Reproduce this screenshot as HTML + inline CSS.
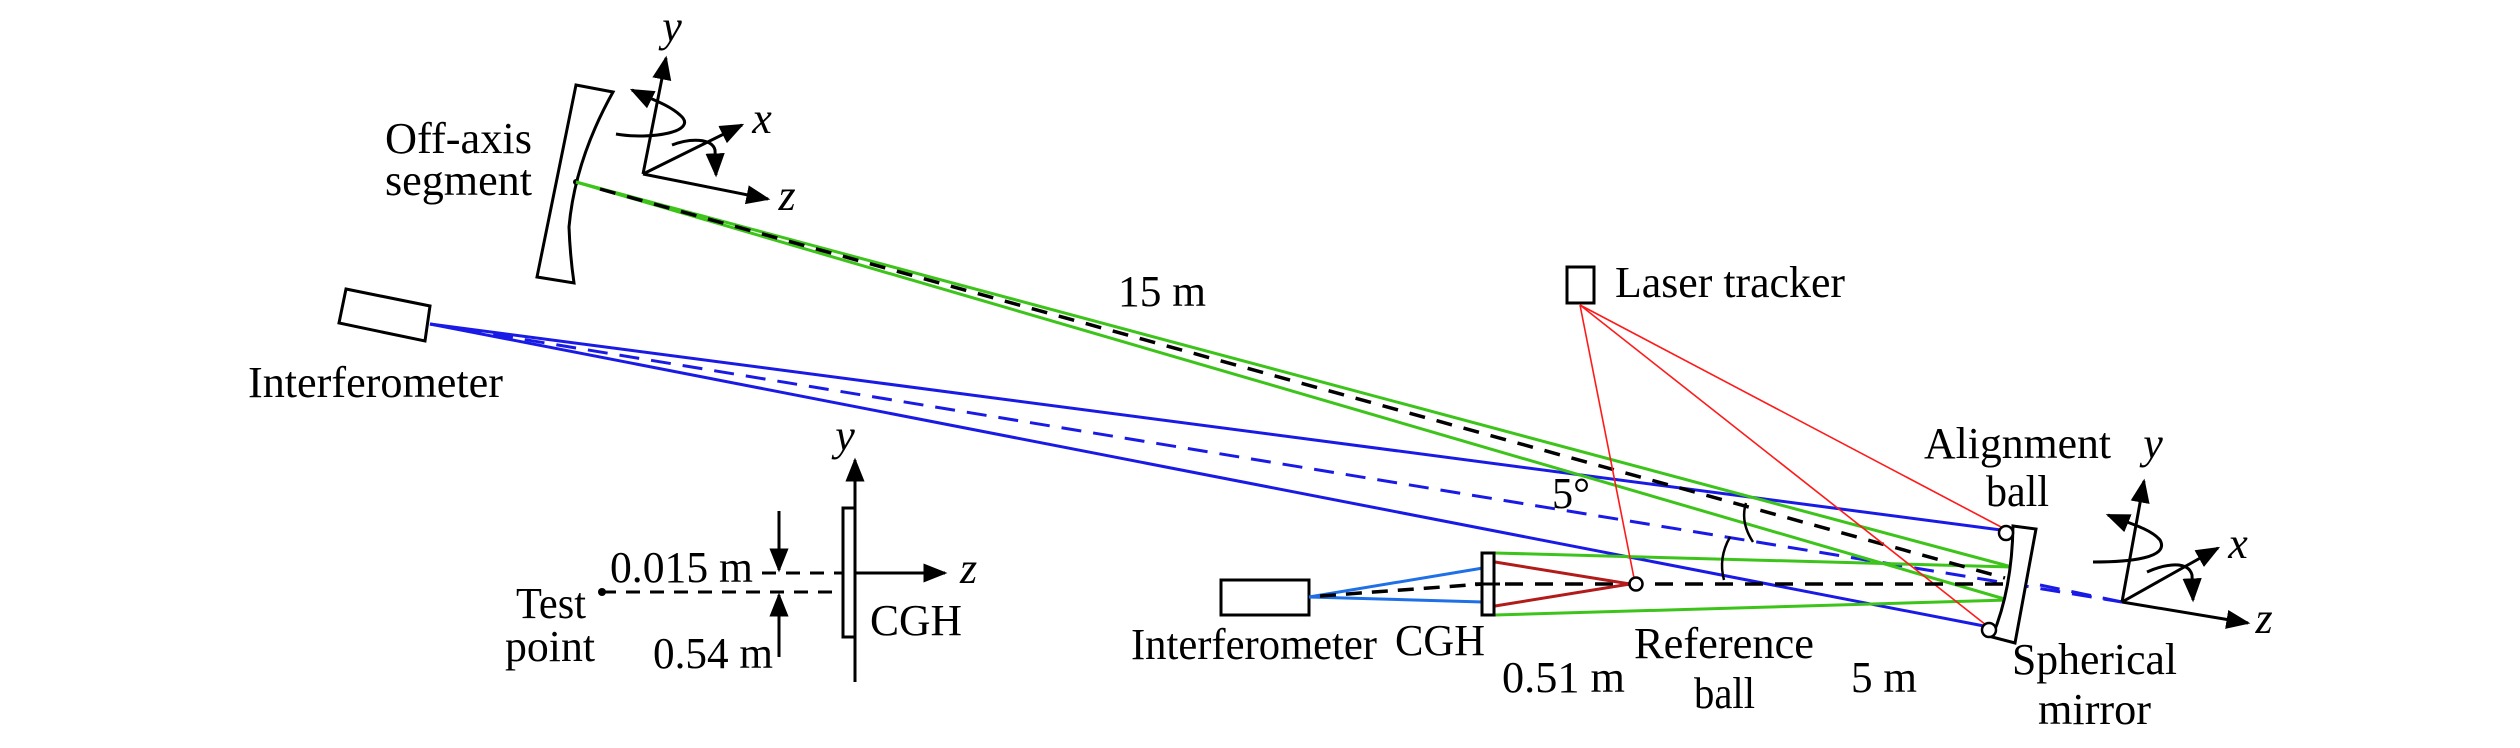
<!DOCTYPE html>
<html><head><meta charset="utf-8"><style>
html,body{margin:0;padding:0;background:#fff;}
svg{display:block;}
svg text{font-family:"Liberation Serif","Times New Roman","DejaVu Serif","Noto Serif CJK SC",serif;font-size:44px;fill:#000;}
.it{font-style:italic;}
</style></head><body>
<svg width="2520" height="748" viewBox="0 0 2520 748" xmlns="http://www.w3.org/2000/svg" font-family="Liberation Serif, Times New Roman, DejaVu Serif, serif">
<defs>
<marker id="ab" viewBox="0 0 10 10" refX="9" refY="5" markerWidth="8" markerHeight="8" orient="auto"><path d="M0,1 L10,5 L0,9 z" fill="#000"/></marker>
</defs>

<!-- Off-axis segment -->
<path d="M576,85 L613,92 Q575,160 569,227 Q570,255 574,283 L537,277 Z" fill="none" stroke="#000" stroke-width="3"/>
<circle cx="576" cy="182" r="3" fill="#000"/>
<g stroke="#000" stroke-width="3" fill="none">
<line x1="643" y1="174" x2="666" y2="58" marker-end="url(#ab)"/>
<line x1="643" y1="174" x2="742" y2="125" marker-end="url(#ab)"/>
<line x1="643" y1="174" x2="768" y2="199" marker-end="url(#ab)"/>
<path d="M616,134 C650,140 700,132 680,115 C668,104 648,98 632,90" marker-end="url(#ab)"/>
<path d="M672,145 C690,138 712,138 715,150 L716,175" marker-end="url(#ab)"/>
</g>
<text x="672" y="41" class="it" text-anchor="middle" font-style="italic">y</text>
<text x="762" y="133" class="it" text-anchor="middle" font-style="italic">x</text>
<text x="787" y="210" class="it" text-anchor="middle" font-style="italic">z</text>
<text x="385" y="153" textLength="147" lengthAdjust="spacingAndGlyphs">Off-axis</text>
<text x="385" y="195" textLength="147" lengthAdjust="spacingAndGlyphs">segment</text>

<!-- Left interferometer -->
<path d="M346,289 L430,306 L425,341 L339,323 Z" fill="#fff" stroke="#000" stroke-width="3"/>
<text x="248" y="397" textLength="255" lengthAdjust="spacingAndGlyphs">Interferometer</text>
<text x="1118" y="306" textLength="88" lengthAdjust="spacingAndGlyphs">15 m</text>

<!-- Blue beams -->
<g stroke="#1a1ae6" stroke-width="3" fill="none">
<line x1="430" y1="324" x2="2001" y2="530"/>
<line x1="430" y1="324" x2="1984" y2="626"/>
<line x1="430" y1="324" x2="2122" y2="602" stroke-dasharray="20,12"/>
</g>

<!-- Green beams -->
<g stroke="#3dc41a" stroke-width="3" fill="none">
<line x1="576" y1="182" x2="2012" y2="567"/>
<line x1="576" y1="182" x2="2008" y2="600"/>
<line x1="1495" y1="553" x2="2012" y2="567"/>
<line x1="1495" y1="615" x2="2008" y2="600"/>
</g>
<line x1="600" y1="189" x2="2005" y2="578" stroke="#000" stroke-width="3.5" stroke-dasharray="16,12"/>

<!-- Laser tracker -->
<rect x="1567" y="267" width="27" height="36" fill="#fff" stroke="#000" stroke-width="3"/>
<text x="1615" y="297" textLength="230" lengthAdjust="spacingAndGlyphs">Laser tracker</text>
<g stroke="#ff1a1a" stroke-width="1.6">
<line x1="1580" y1="305" x2="1634" y2="578"/>
<line x1="1580" y1="305" x2="2003" y2="528"/>
<line x1="1580" y1="305" x2="1986" y2="625"/>
</g>

<!-- lower setup -->
<rect x="1221" y="580" width="88" height="35" fill="#fff" stroke="#000" stroke-width="3"/>
<g stroke="#1f6fe6" stroke-width="3">
<line x1="1309" y1="597" x2="1483" y2="568"/>
<line x1="1309" y1="597" x2="1483" y2="602"/>
</g>
<line x1="1320" y1="596" x2="1483" y2="584" stroke="#000" stroke-width="3.5" stroke-dasharray="16,10"/>
<line x1="1475" y1="584" x2="2013" y2="584" stroke="#000" stroke-width="3.5" stroke-dasharray="18,12"/>
<g stroke="#b31a1a" stroke-width="3">
<line x1="1495" y1="562" x2="1630" y2="584"/>
<line x1="1495" y1="606" x2="1630" y2="584"/>
</g>
<rect x="1482" y="553" width="12" height="62" fill="#fff" stroke="#000" stroke-width="3"/>
<line x1="1476" y1="584" x2="1500" y2="584" stroke="#000" stroke-width="3"/>
<circle cx="1636" cy="584" r="6.5" fill="#fff" stroke="#000" stroke-width="2.5"/>

<!-- angle arcs -->
<g stroke="#000" stroke-width="2.5" fill="none">
<path d="M1746,503 Q1740,522 1753,542"/>
<path d="M1730,537 Q1718,558 1724,580"/>
</g>
<text x="1552" y="508" textLength="38" lengthAdjust="spacingAndGlyphs">5°</text>

<!-- Spherical mirror -->
<path d="M2013,526 L2036,529 L2015,643 L1992,637 Q2012,590 2013,526 Z" fill="#fff" stroke="#000" stroke-width="3"/>
<circle cx="2006" cy="533" r="7" fill="#fff" stroke="#000" stroke-width="2.5"/>
<circle cx="1989" cy="630" r="7" fill="#fff" stroke="#000" stroke-width="2.5"/>
<line x1="2040" y1="585" x2="2122" y2="602" stroke="#1a1ae6" stroke-width="3" stroke-dasharray="20,12"/>

<!-- right axes -->
<g stroke="#000" stroke-width="3" fill="none">
<line x1="2122" y1="602" x2="2144" y2="481" marker-end="url(#ab)"/>
<line x1="2122" y1="602" x2="2218" y2="548" marker-end="url(#ab)"/>
<line x1="2122" y1="602" x2="2248" y2="623" marker-end="url(#ab)"/>
<path d="M2093,562 C2130,562 2170,558 2160,540 C2150,528 2125,522 2108,515" marker-end="url(#ab)"/>
<path d="M2147,572 C2165,564 2188,560 2192,575 L2193,600" marker-end="url(#ab)"/>
</g>
<text x="2153" y="458" class="it" text-anchor="middle" font-style="italic">y</text>
<text x="2238" y="558" class="it" text-anchor="middle" font-style="italic">x</text>
<text x="2264" y="633" class="it" text-anchor="middle" font-style="italic">z</text>

<!-- lower labels -->
<text x="1131" y="659" textLength="246" lengthAdjust="spacingAndGlyphs">Interferometer</text>
<text x="1395" y="655" textLength="90" lengthAdjust="spacingAndGlyphs">CGH</text>
<text x="1502" y="692" textLength="123" lengthAdjust="spacingAndGlyphs">0.51 m</text>
<text x="1634" y="658" textLength="180" lengthAdjust="spacingAndGlyphs">Reference</text>
<text x="1694" y="708" textLength="61" lengthAdjust="spacingAndGlyphs">ball</text>
<text x="1851" y="692" textLength="66" lengthAdjust="spacingAndGlyphs">5 m</text>
<text x="1924" y="458" textLength="187" lengthAdjust="spacingAndGlyphs">Alignment</text>
<text x="1986" y="506" textLength="63" lengthAdjust="spacingAndGlyphs">ball</text>
<text x="2012" y="674" textLength="165" lengthAdjust="spacingAndGlyphs">Spherical</text>
<text x="2038" y="724" textLength="113" lengthAdjust="spacingAndGlyphs">mirror</text>

<!-- CGH small diagram -->
<g stroke="#000" stroke-width="3" fill="none">
<line x1="855" y1="682" x2="855" y2="460" marker-end="url(#ab)"/>
<line x1="855" y1="573" x2="945" y2="573" marker-end="url(#ab)"/>
<rect x="843" y="508" width="12" height="129" fill="#fff"/>
<line x1="762" y1="573" x2="843" y2="573" stroke-dasharray="14,10"/>
<line x1="602" y1="592" x2="843" y2="592" stroke-dasharray="14,10"/>
<line x1="779" y1="511" x2="779" y2="570" marker-end="url(#ab)"/>
<line x1="779" y1="657" x2="779" y2="595" marker-end="url(#ab)"/>
</g>
<circle cx="602" cy="592" r="4" fill="#000"/>
<text x="845" y="450" class="it" text-anchor="middle" font-style="italic">y</text>
<text x="960" y="583" class="it" font-style="italic">z</text>
<text x="610" y="582" textLength="143" lengthAdjust="spacingAndGlyphs">0.015 m</text>
<text x="516" y="618" textLength="70" lengthAdjust="spacingAndGlyphs">Test</text>
<text x="505" y="661" textLength="90" lengthAdjust="spacingAndGlyphs">point</text>
<text x="653" y="668" textLength="120" lengthAdjust="spacingAndGlyphs">0.54 m</text>
<text x="870" y="635" textLength="92" lengthAdjust="spacingAndGlyphs">CGH</text>
</svg>
</body></html>
